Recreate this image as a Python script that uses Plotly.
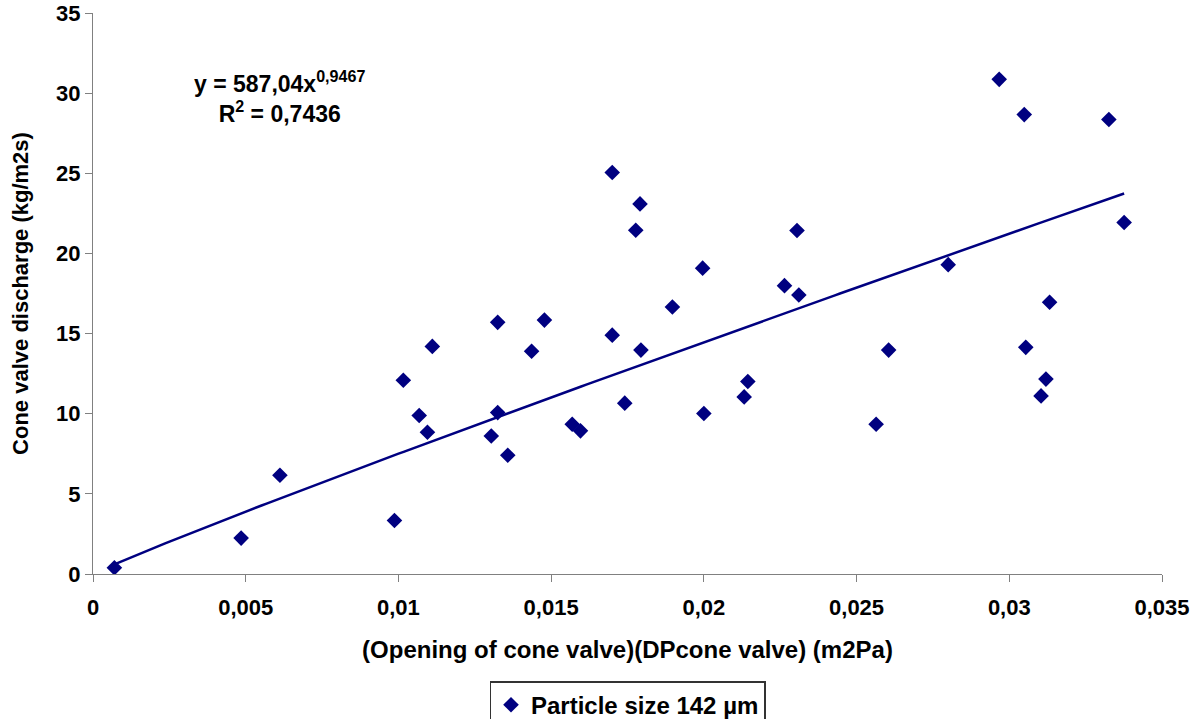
import numpy as np
import plotly.graph_objects as go

# Measured data (Particle size 142 µm)
x_vals = [0.0007, 0.00485, 0.00612, 0.00987, 0.01016, 0.01068, 0.01095, 0.01111,
          0.01304, 0.01325, 0.01325, 0.01358, 0.01436, 0.01478, 0.01569, 0.01596,
          0.0170, 0.0170, 0.01777, 0.01791, 0.01794, 0.01741, 0.01897, 0.01996,
          0.0200, 0.02132, 0.02144, 0.02305, 0.02264, 0.02311, 0.0280, 0.02605,
          0.02564, 0.02967, 0.03049, 0.03326, 0.03376, 0.03132, 0.03054, 0.0312,
          0.03104]
y_vals = [0.39, 2.24, 6.16, 3.34, 12.09, 9.89, 8.84, 14.2,
          8.61, 15.7, 10.07, 7.41, 13.9, 15.84, 9.34, 8.93,
          25.05, 14.9, 21.45, 23.09, 13.97, 10.66, 16.66, 19.08,
          10.01, 11.05, 12.01, 21.43, 17.99, 17.41, 19.3, 13.97,
          9.34, 30.86, 28.66, 28.36, 21.93, 16.95, 14.14, 12.16,
          11.11]

# Power trendline coefficients shown on the chart
coef_a = 587.04
coef_b = 0.9467
r2_text = "0,7436"

x_tickvals = [0, 0.005, 0.01, 0.015, 0.02, 0.025, 0.03, 0.035]
x_ticktext = ["0", "0,005", "0,01", "0,015", "0,02", "0,025", "0,03", "0,035"]
y_tickvals = [0, 5, 10, 15, 20, 25, 30, 35]
y_ticktext = ["0", "5", "10", "15", "20", "25", "30", "35"]

navy = "#000080"
font_family = "Liberation Sans, Arial, sans-serif"

fig = go.Figure()

xt = np.linspace(min(x_vals), max(x_vals), 200)
yt = coef_a * xt ** coef_b
fig.add_trace(go.Scatter(x=xt, y=yt, mode="lines",
                         line=dict(color=navy, width=2.5),
                         showlegend=False, hoverinfo="skip"))

fig.add_trace(go.Scatter(x=x_vals, y=y_vals, mode="markers",
                         name="Particle size 142 µm",
                         marker=dict(symbol="diamond", size=12, color=navy,
                                     line=dict(width=0))))

fig.add_annotation(
    x=0.00612, y=29.75, xref="x", yref="y",
    text=f"y = {coef_a:.2f}".replace(".", ",") + f"x<sup>{coef_b}</sup>".replace(".", ",")
         + f"<br>R<sup>2</sup> = {r2_text}",
    showarrow=False, align="center",
    font=dict(family=font_family, size=23, color="black", weight="bold"))

axis_common = dict(showgrid=False, zeroline=False, showline=True,
                   linecolor="#808080", linewidth=1.3, ticks="outside",
                   ticklen=7, tickcolor="#808080", tickwidth=1.3,
                   tickfont=dict(family=font_family, size=22, color="black", weight="bold"))

fig.update_xaxes(range=[0, 0.035], tickmode="array", tickvals=x_tickvals,
                 ticktext=x_ticktext, ticklabelstandoff=6,
                 title=dict(text="(Opening of cone valve)(DPcone valve) (m2Pa)",
                            font=dict(family=font_family, size=24, color="black", weight="bold"),
                            standoff=22),
                 **axis_common)
fig.update_yaxes(range=[0, 35], tickmode="array", tickvals=y_tickvals,
                 ticktext=y_ticktext,
                 title=dict(text="Cone valve discharge (kg/m2s)",
                            font=dict(family=font_family, size=22, color="black", weight="bold"),
                            standoff=21),
                 **axis_common)

fig.update_layout(
    width=1200, height=719,
    margin=dict(l=93, r=38, t=13, b=145, autoexpand=False),
    plot_bgcolor="white", paper_bgcolor="white",
    font=dict(family=font_family, color="black"),
    legend=dict(x=0.5, xanchor="center", y=-0.191, yanchor="top",
                orientation="h", bordercolor="#333333", borderwidth=1.5,
                bgcolor="white",
                font=dict(family=font_family, size=24, color="black", weight="bold"),
                itemsizing="constant"),
)

fig.write_html("out.html")
